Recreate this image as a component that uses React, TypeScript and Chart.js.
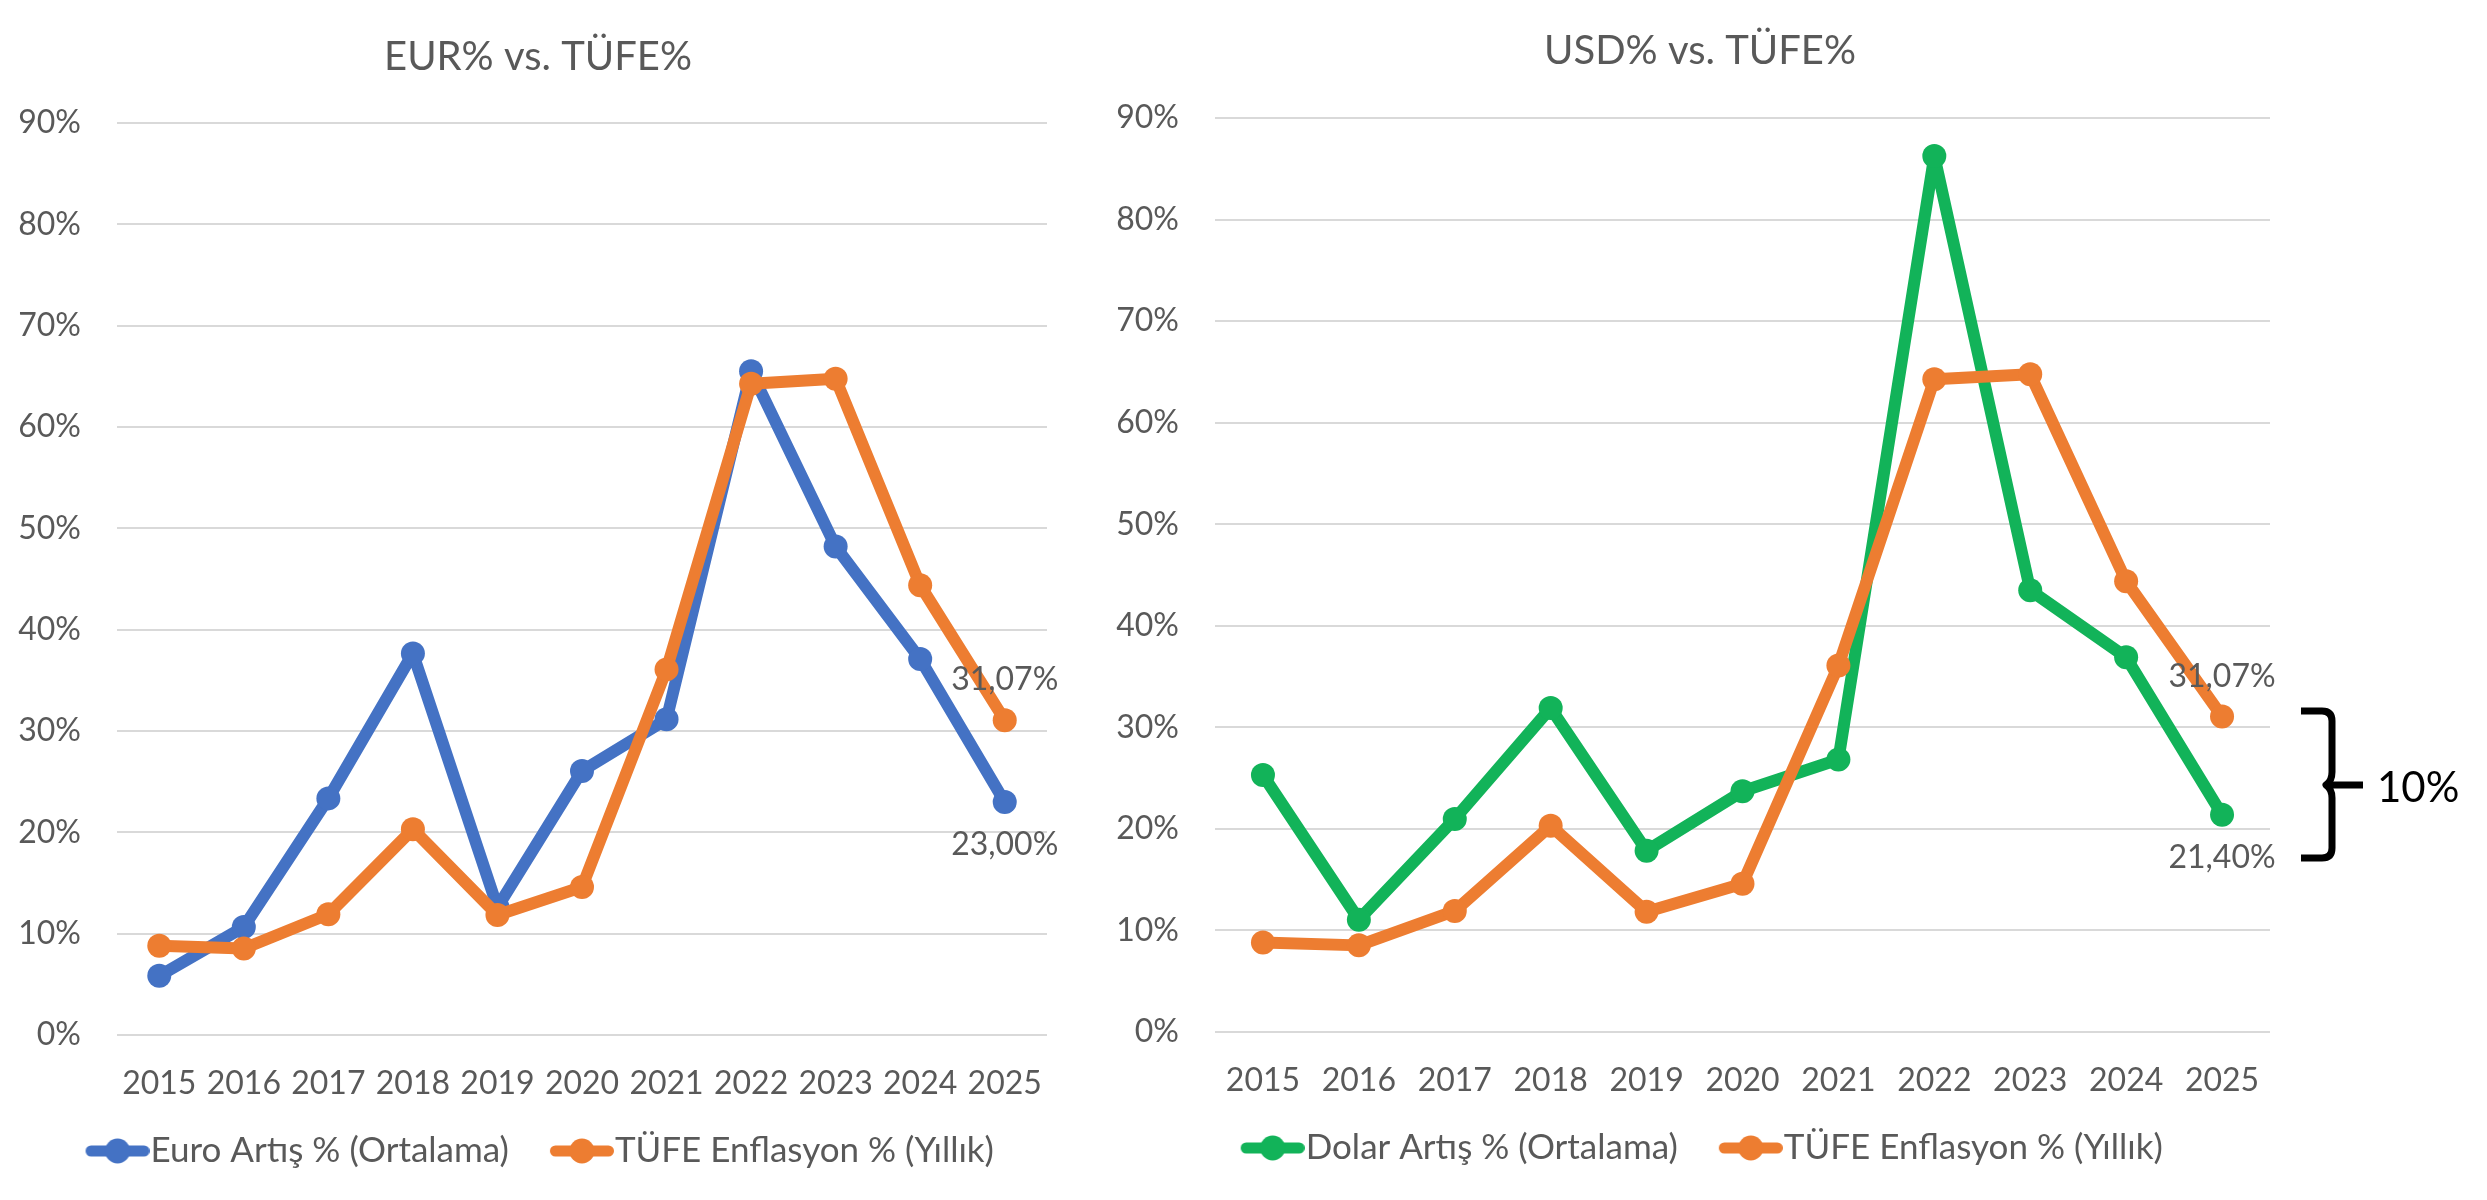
import React, { useEffect, useRef } from "react";
import { Chart, registerables } from "chart.js";

Chart.register(...registerables);

// ---------------- data ----------------
const years = ["2015", "2016", "2017", "2018", "2019", "2020", "2021", "2022", "2023", "2024", "2025"];
const euroIncrease = [5.84, 10.66, 23.35, 37.66, 12.6, 26.06, 31.15, 65.5, 48.2, 37.1, 23.0];
const usdIncrease = [25.3, 11.06, 20.98, 31.9, 17.85, 23.7, 26.83, 86.26, 43.5, 36.9, 21.4];
const cpiInflation = [8.81, 8.53, 11.92, 20.3, 11.84, 14.6, 36.08, 64.27, 64.77, 44.38, 31.07];
const yMin = 0;
const yMax = 90;
const yStep = 10;

const leftTitle = "EUR% vs. TÜFE%";
const rightTitle = "USD% vs. TÜFE%";
const euroLabel = "Euro Artış % (Ortalama)";
const usdLabel = "Dolar Artış % (Ortalama)";
const cpiLabel = "TÜFE Enflasyon % (Yıllık)";
const gapLabel = "10%";

// ---------------- styles ----------------
const BLUE = "#4472C4";
const ORANGE = "#ED7D31";
const GREEN = "#12B359";
const TEXT = "#595959";
const GRID = "#D9D9D9";
const FONT = "Lato, 'Open Sans', sans-serif";
const LEGEND_SIZE = 35;
const SYMBOL_PAD = 10;
const LEGEND_PAD = 37.5;

const fmt = (v: number) => v.toFixed(2).replace(".", ",") + "%";

function legendSymbol(color: string): HTMLCanvasElement {
  const a = SYMBOL_PAD;
  const c = document.createElement("canvas");
  c.width = 64 + 2 * a;
  c.height = 26;
  const ctx = c.getContext("2d")!;
  ctx.strokeStyle = color;
  ctx.lineWidth = 11;
  ctx.lineCap = "round";
  ctx.beginPath();
  ctx.moveTo(2 * a + 5.5, 13);
  ctx.lineTo(2 * a + 64 - 5.5, 13);
  ctx.stroke();
  ctx.fillStyle = color;
  ctx.beginPath();
  ctx.arc(2 * a + 32, 13, 12.5, 0, Math.PI * 2);
  ctx.fill();
  return c;
}

const endLabelsPlugin = {
  id: "endLabels",
  afterDatasetsDraw(chart: any, _args: any, opts: any) {
    const items = (opts && opts.items) || [];
    const ctx = chart.ctx;
    ctx.save();
    ctx.font = `32px ${FONT}`;
    ctx.fillStyle = TEXT;
    ctx.textAlign = "center";
    ctx.textBaseline = "middle";
    for (const it of items) {
      const meta = chart.getDatasetMeta(it.datasetIndex);
      const el = meta.data[it.index];
      const v = chart.data.datasets[it.datasetIndex].data[it.index];
      if (!el) continue;
      ctx.fillText(fmt(v), el.x + it.dx, el.y + it.dy);
    }
    ctx.restore();
  },
};

type Cfg = {
  title: string;
  seriesLabel: string;
  seriesColor: string;
  series: number[];
  titlePad: { top: number; bottom: number };
  padding: { left: number; right: number; bottom: number };
  yAxisWidth: number;
  rightSpacer: number;
  xAxisHeight: number;
};

function makeConfig(cfg: Cfg): any {
  const ds = (label: string, data: number[], color: string, order: number) => ({
    label,
    data,
    borderColor: color,
    backgroundColor: color,
    pointBackgroundColor: color,
    pointBorderColor: color,
    pointBorderWidth: 0,
    pointRadius: 12,
    pointHoverRadius: 12,
    borderWidth: 12,
    borderJoinStyle: "round",
    borderCapStyle: "round",
    tension: 0,
    fill: false,
    order,
    clip: false,
    yAxisID: "y",
  });
  return {
    type: "line",
    data: {
      labels: years,
      datasets: [ds(cfg.seriesLabel, cfg.series, cfg.seriesColor, 1), ds(cpiLabel, cpiInflation, ORANGE, 0)],
    },
    plugins: [endLabelsPlugin],
    options: {
      responsive: false,
      animation: false,
      devicePixelRatio: 1,
      layout: { padding: { left: cfg.padding.left, right: cfg.padding.right, top: 0, bottom: cfg.padding.bottom } },
      plugins: {
        title: {
          display: true,
          text: cfg.title,
          color: TEXT,
          font: { family: FONT, size: 40, weight: "normal" },
          padding: cfg.titlePad,
        },
        legend: {
          position: "bottom",
          labels: {
            usePointStyle: true,
            pointStyleWidth: 31 + 2 * SYMBOL_PAD,
            color: TEXT,
            font: { family: FONT, size: LEGEND_SIZE },
            padding: LEGEND_PAD,
            sort: (a: any, b: any) => a.datasetIndex - b.datasetIndex,
            generateLabels: (chart: any) => {
              const base = Chart.defaults.plugins.legend.labels.generateLabels(chart);
              return base.map((l: any) => ({
                ...l,
                pointStyle: legendSymbol(chart.data.datasets[l.datasetIndex].borderColor),
                fontColor: TEXT,
              }));
            },
          },
        },
        tooltip: { enabled: false },
        endLabels: {
          items: [
            { datasetIndex: 1, index: years.length - 1, dx: 0, dy: -40 },
            { datasetIndex: 0, index: years.length - 1, dx: 0, dy: 43 },
          ],
        },
      },
      scales: {
        x: {
          offset: true,
          grid: { display: false, offset: true },
          border: { display: false },
          ticks: {
            color: TEXT,
            font: { family: FONT, size: 32 },
            padding: 21,
            autoSkip: false,
            maxRotation: 0,
            minRotation: 0,
          },
          afterFit: (scale: any) => {
            scale.height = cfg.xAxisHeight;
          },
        },
        y: {
          min: yMin,
          max: yMax,
          grid: { color: GRID, lineWidth: 2, drawTicks: false },
          border: { display: false },
          ticks: {
            stepSize: yStep,
            color: TEXT,
            font: { family: FONT, size: 32 },
            padding: 36,
            callback: (v: any) => v + "%",
          },
          afterFit: (scale: any) => {
            scale.width = cfg.yAxisWidth;
          },
        },
        spacer: {
          type: "linear",
          position: "right",
          display: true,
          min: yMin,
          max: yMax,
          grid: { display: false, drawTicks: false },
          border: { display: false },
          ticks: { display: false },
          afterFit: (scale: any) => {
            scale.width = cfg.rightSpacer;
          },
        },
      },
    },
  };
}

function ChartCanvas({ cfg, width, height }: { cfg: Cfg; width: number; height: number }) {
  const ref = useRef<HTMLCanvasElement>(null);
  useEffect(() => {
    if (!ref.current) return;
    const chart = new Chart(ref.current, makeConfig(cfg));
    return () => chart.destroy();
  }, []);
  return <canvas ref={ref} width={width} height={height} style={{ width, height, display: "block" }} />;
}

export default function App() {
  const leftCfg: Cfg = {
    title: leftTitle,
    seriesLabel: euroLabel,
    seriesColor: BLUE,
    series: euroIncrease,
    titlePad: { top: 33, bottom: 42 },
    padding: { left: 17, right: 17, bottom: 21.5 },
    yAxisWidth: 100,
    rightSpacer: 12,
    xAxisHeight: 61,
  };
  const rightCfg: Cfg = {
    title: rightTitle,
    seriesLabel: usdLabel,
    seriesColor: GREEN,
    series: usdIncrease,
    titlePad: { top: 27, bottom: 43 },
    padding: { left: 17, right: 17, bottom: 24.5 },
    yAxisWidth: 99,
    rightSpacer: 14,
    xAxisHeight: 61,
  };
  return (
    <div style={{ position: "fixed", left: 0, top: 0, width: 2487, height: 1200, background: "#fff", overflow: "hidden" }}>
      <div style={{ position: "absolute", left: 0, top: 0 }}>
        <ChartCanvas cfg={leftCfg} width={1076} height={1200} />
      </div>
      <div style={{ position: "absolute", left: 1099, top: 0 }}>
        <ChartCanvas cfg={rightCfg} width={1202} height={1200} />
      </div>
      <svg
        width={2487}
        height={1200}
        style={{ position: "absolute", left: 0, top: 0, pointerEvents: "none" }}
      >
        <path
          d="M2301,711 L2322,711 Q2332,711 2332,721 L2332,772 Q2332,781 2326,785 Q2332,789 2332,798 L2332,848 Q2332,858 2322,858 L2301,858"
          fill="none"
          stroke="#000"
          strokeWidth={7}
          strokeLinejoin="round"
        />
        <path d="M2330,785 L2363,785" stroke="#000" strokeWidth={7} />
        <text x={2377} y={802} fill="#000" style={{ font: `42px ${FONT}` }}>
          {gapLabel}
        </text>
      </svg>
    </div>
  );
}
